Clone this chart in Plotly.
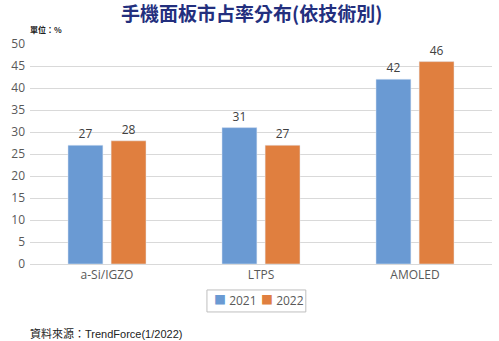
import plotly.graph_objects as go

categories = ["a-Si/IGZO", "LTPS", "AMOLED"]
v2021 = [27, 31, 42]
v2022 = [28, 27, 46]
series_names = ["2021", "2022"]
colors = ["#6A9AD3", "#E07F3F"]

fig = go.Figure()
for name, vals, col in zip(series_names, [v2021, v2022], colors):
    fig.add_trace(go.Bar(x=categories, y=vals, name=name, marker_color=col,
                         text=vals, textposition="outside",
                         textfont=dict(size=12, color="#404040"), cliponaxis=False))

fig.update_layout(
    width=499, height=341,
    margin=dict(l=30, r=7, t=44, b=77, autoexpand=False),
    plot_bgcolor="white", paper_bgcolor="white",
    barmode="group", bargap=0.44, bargroupgap=0.19,
    font=dict(family="Open Sans, Noto Sans CJK TC", color="#595959"),
    showlegend=False,
    xaxis=dict(showgrid=False, showline=True, linecolor="#D9D9D9", tickfont=dict(size=12, color="#595959"),
               ticks=""),
    yaxis=dict(range=[0, 50], dtick=5, showgrid=True, gridcolor="#D9D9D9", zeroline=False,
               tickfont=dict(size=12, color="#595959"), ticks="", ticklabelstandoff=4),
)
# Title
fig.add_annotation(text="<b>手機面板市占率分布(依技術別)</b>", xref="paper", yref="paper", x=0.48, y=1.145,
                   xanchor="center", yanchor="middle", showarrow=False,
                   font=dict(size=19, color="#232F7E", family="Noto Sans CJK TC"))
# Unit
fig.add_annotation(text="<b>單位：%</b>", xref="paper", yref="paper", x=-0.005, y=1.03, xanchor="left",
                   yanchor="bottom", showarrow=False, font=dict(size=8, color="#222222", family="Noto Sans CJK TC"))
# Legend (manual)
fig.add_shape(type="rect", xref="paper", yref="paper", x0=0.383, x1=0.597, y0=-0.218, y1=-0.118,
              line=dict(color="#BFBFBF", width=1), fillcolor="white")
for i, (name, col) in enumerate(zip(series_names, colors)):
    fig.add_annotation(text=f'<span style="color:{col}">■</span> {name}', xref="paper", yref="paper",
                       x=0.445 + i * 0.102, y=-0.168, xanchor="center", yanchor="middle", showarrow=False,
                       font=dict(size=12, color="#595959"))
# Source
fig.add_annotation(text="資料來源：TrendForce(1/2022)", xref="paper", yref="paper", x=-0.005, y=-0.315,
                   xanchor="left", yanchor="middle", showarrow=False,
                   font=dict(size=11, color="#222222", family="Liberation Sans, Noto Sans CJK TC"))
fig.write_html("out.html")
